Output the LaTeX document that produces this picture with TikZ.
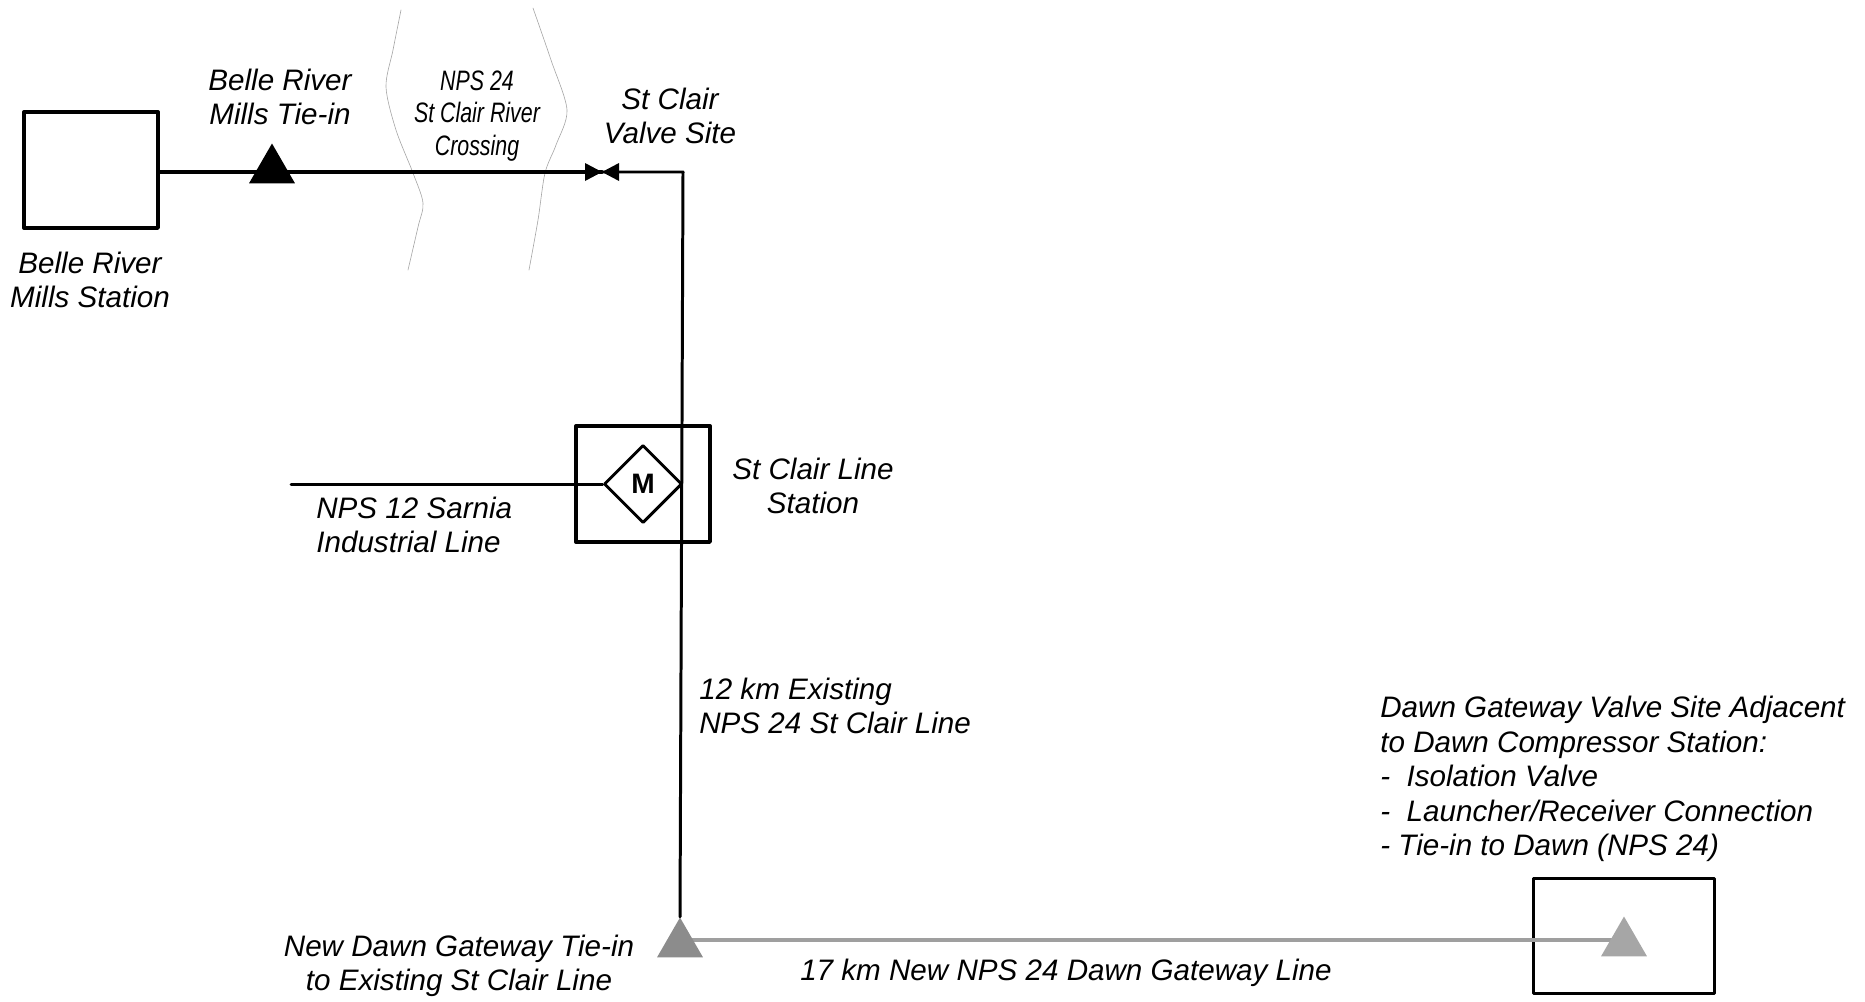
\documentclass[tikz,border=0pt]{standalone}
\usepackage{fontspec}
\setmainfont{Liberation Sans}
\usetikzlibrary{shapes.geometric}
\begin{document}
\begin{tikzpicture}[x=0.02cm, y=-0.02cm, line join=round, line cap=round,
	lbl/.style={font=\fontsize{16.85}{19.6}\selectfont\itshape, align=center, inner sep=0pt},
	lblleft/.style={lbl, align=left, anchor=west},
	tri/.style={regular polygon, regular polygon sides=3, minimum size=1.06cm, inner sep=0pt},
	box/.style={draw, line width=1.9pt, rectangle, inner sep=0pt},
	pipe/.style={line width=1.7pt},
	mainpipe/.style={line width=1.9pt},
	newpipe/.style={line width=1.9pt, gray!75},
	river/.style={line width=0.35pt, gray!70, smooth}]
	\useasboundingbox (0,0) rectangle (1865,1001);
	\path (602,172) coordinate (Valve) (683,172) coordinate (Corner) (291,484) coordinate (Sarnia) (680,940) coordinate (NewOut) (1624,940) coordinate (GateIn);
	\draw[river] plot coordinates {(401,10) (393,50) (386,87) (396,130) (413,173) (423,203) (418,227) (408,270)};
	\draw[river] plot coordinates {(533,8) (551,60) (567,110) (556,145) (545,173) (538,220) (529,270)};
	\node[box, minimum width=134*0.02cm, minimum height=116*0.02cm] (Belle) at (91,170) {};
	\node[box, minimum width=134*0.02cm, minimum height=116*0.02cm] (Clair) at (643,484) {};
	\node[box, minimum width=181*0.02cm, minimum height=115*0.02cm] (Gate) at (1624,936) {};
	\node[draw, line width=1.7pt, diamond, minimum width=78*0.02cm, minimum height=78*0.02cm, inner sep=0pt, font=\fontsize{16}{16}\selectfont\bfseries] (Meter) at (643,484) {M};
	\draw[newpipe] (NewOut) -- (GateIn);
	\node[tri, fill=black] (BelleTie) at (272,170) {};
	\node[tri, fill=gray!90] (NewTie) at (680,944) {};
	\node[tri, fill=gray!70] (GateTie) at (1624,943) {};
	\draw[mainpipe] (Belle.east |- Valve) -- (Valve);
	\draw[pipe] (Valve) -- (Corner) -- (NewTie.north);
	\draw[pipe] (Sarnia) -- (Meter.west);
	\fill (Valve) -- ++(-17,-9) -- ++(0,18) -- cycle;
	\fill (Valve) -- ++(17,-9) -- ++(0,18) -- cycle;
	\node[lbl] (BelleLbl) at (90,280) {Belle River\\Mills Station};
	\node[lbl] (TieLbl) at (280,97) {Belle River\\Mills Tie-in};
	\node[lbl, xscale=.76, font=\fontsize{16}{18.4}\selectfont\itshape] (CrossLbl) at (477,116) {NPS 24\\St Clair River\\Crossing};
	\node[lbl] (ValveLbl) at (670,116) {St Clair\\Valve Site};
	\node[lbl] (ClairLbl) at (813,486) {St Clair Line\\Station};
	\node[lblleft] (SarniaLbl) at (316,525) {NPS 12 Sarnia\\Industrial Line};
	\node[lblleft] (ExistLbl) at (699,706) {12 km Existing\\NPS 24 St Clair Line};
	\node[lbl] (NewLbl) at (459,966) {New Dawn Gateway Tie-in\\to Existing St Clair Line};
	\node[lbl] (GateLine) at (1066,973) {17 km New NPS 24 Dawn Gateway Line};
	\node[lblleft] (GateLbl) at (1380,779) {Dawn Gateway Valve Site Adjacent\\to Dawn Compressor Station:\\-~~Isolation Valve\\-~~Launcher/Receiver Connection\\- Tie-in to Dawn (NPS 24)};
\end{tikzpicture}
\end{document}
